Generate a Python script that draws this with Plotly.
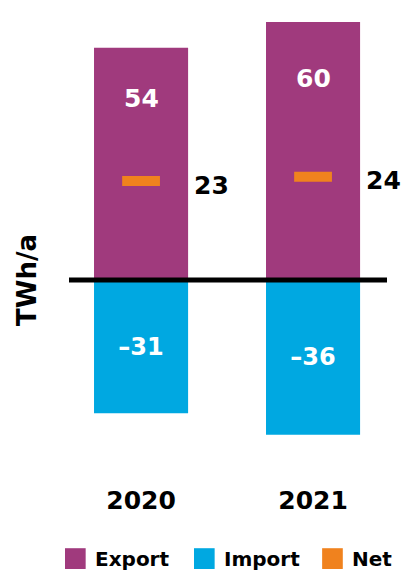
import plotly.graph_objects as go

years = ["2020", "2021"]
export_vals = [54, 60]
import_vals = [-31, -36]
net_vals = [23, 24]

C_EXP = "#A03A7D"
C_IMP = "#00A8E1"
C_NET = "#F0821E"
FONT = "DejaVu Sans"

fig = go.Figure()
fig.add_trace(go.Bar(x=years, y=export_vals, name="Export", marker=dict(color=C_EXP, line=dict(width=0)),
                     width=0.547, hoverinfo="skip"))
fig.add_trace(go.Bar(x=years, y=import_vals, name="Import", marker=dict(color=C_IMP, line=dict(width=0)),
                     width=0.547, text=[f"–{abs(v)}" for v in import_vals], textposition="inside",
                     insidetextanchor="middle",
                     textfont=dict(family=FONT, size=24, color="white", weight="bold"), hoverinfo="skip"))
fig.add_trace(go.Scatter(x=years, y=net_vals, name="Net", mode="markers",
                         marker=dict(symbol="line-ew", size=27, color=C_NET,
                                     line=dict(color=C_NET, width=10)), hoverinfo="skip"))

ann = []
for i, v in enumerate(export_vals):
    ann.append(dict(x=i, y=v * 0.78, text=str(v), showarrow=False, xref="x", yref="y",
                    font=dict(family=FONT, size=25, color="white", weight="bold")))
for i, v in enumerate(net_vals):
    ann.append(dict(x=i, y=v, text=str(v), showarrow=False, xref="x", yref="y", xanchor="left",
                    xshift=51, yshift=-4,
                    font=dict(family=FONT, size=25, color="black", weight="bold")))
# y-axis title
ann.append(dict(x=-0.132, y=0, xref="paper", yref="y", text="TWh/a", textangle=-90, showarrow=False,
                xanchor="center", yanchor="middle",
                font=dict(family=FONT, size=26, color="black", weight="bold")))

# manual legend
shapes = [dict(type="line", xref="paper", yref="y", x0=0, x1=1, y0=0, y1=0,
               line=dict(color="black", width=5), layer="above")]
legend_items = [("Export", C_EXP, -0.0126, 0.0755), ("Import", C_IMP, 0.393, 0.481), ("Net", C_NET, 0.796, 0.884)]
for name, col, sx, tx in legend_items:
    shapes.append(dict(type="rect", xref="paper", yref="paper", x0=sx, x1=sx + 0.065,
                       y0=-0.178, y1=-0.135, fillcolor=col, line=dict(width=0)))
    ann.append(dict(x=tx, y=-0.157, xref="paper", yref="paper", xanchor="left", yanchor="middle",
                    text=name, showarrow=False,
                    font=dict(family=FONT, size=20, color="black", weight="bold")))

fig.update_layout(
    width=403, height=570,
    margin=dict(l=69, r=16, t=0, b=87),
    paper_bgcolor="white", plot_bgcolor="white",
    barmode="relative", showlegend=False,
    annotations=ann, shapes=shapes,
    xaxis=dict(type="category", range=[-0.419, 1.43], showgrid=False, zeroline=False, showline=False, ticks="",
               tickfont=dict(family=FONT, size=25, color="black", weight="bold")),
    yaxis=dict(range=[-47.2, 65.1], showgrid=False, zeroline=False, showline=False,
               showticklabels=False, ticks=""),
)
fig.write_html("out.html")
